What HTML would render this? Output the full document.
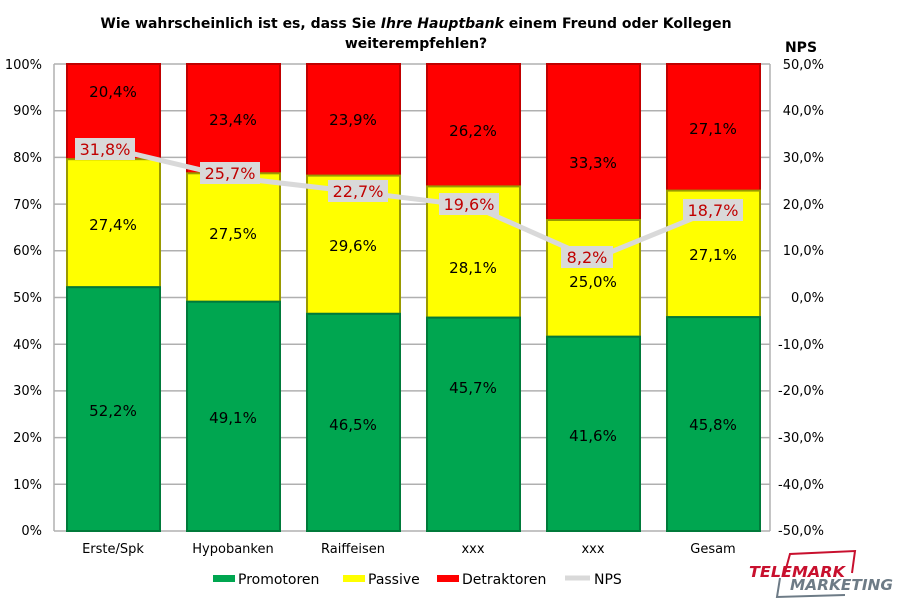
<!DOCTYPE html>
<html><head><meta charset="utf-8"><style>
body{margin:0;background:#fff;width:899px;height:600px;overflow:hidden}
svg{font-family:"DejaVu Sans",Verdana,sans-serif}
</style></head><body>
<svg width="899" height="600" xmlns="http://www.w3.org/2000/svg">
<text x="416" y="28" font-size="14" font-weight="bold" text-anchor="middle">Wie wahrscheinlich ist es, dass Sie <tspan font-style="italic">Ihre Hauptbank</tspan> einem Freund oder Kollegen</text>
<text x="416" y="48" font-size="14" font-weight="bold" text-anchor="middle">weiterempfehlen?</text>
<text x="801" y="52" font-size="14" font-weight="bold" text-anchor="middle">NPS</text>
<g stroke="#b0b0b0" stroke-width="1.5">
<line x1="54" x2="770" y1="64" y2="64"/><line x1="54" x2="770" y1="110.7" y2="110.7"/><line x1="54" x2="770" y1="157.4" y2="157.4"/><line x1="54" x2="770" y1="204.1" y2="204.1"/><line x1="54" x2="770" y1="250.8" y2="250.8"/><line x1="54" x2="770" y1="297.5" y2="297.5"/><line x1="54" x2="770" y1="344.2" y2="344.2"/><line x1="54" x2="770" y1="390.9" y2="390.9"/><line x1="54" x2="770" y1="437.6" y2="437.6"/><line x1="54" x2="770" y1="484.3" y2="484.3"/><line x1="54" x2="770" y1="531" y2="531"/>
<line x1="54" x2="54" y1="64" y2="531"/><line x1="770" x2="770" y1="64" y2="531"/>
</g>
<g font-size="13" text-anchor="end">
<text x="42" y="69">100%</text><text x="42" y="115">90%</text><text x="42" y="162">80%</text><text x="42" y="209">70%</text><text x="42" y="255">60%</text><text x="42" y="302">50%</text><text x="42" y="349">40%</text><text x="42" y="395">30%</text><text x="42" y="442">20%</text><text x="42" y="489">10%</text><text x="42" y="535">0%</text>
</g>
<g font-size="13" text-anchor="end">
<text x="824" y="69">50,0%</text><text x="824" y="115">40,0%</text><text x="824" y="162">30,0%</text><text x="824" y="209">20,0%</text><text x="824" y="255">10,0%</text><text x="824" y="302">0,0%</text><text x="824" y="349">-10,0%</text><text x="824" y="395">-20,0%</text><text x="824" y="442">-30,0%</text><text x="824" y="489">-40,0%</text><text x="824" y="535">-50,0%</text>
</g>
<g stroke-width="2">
<rect x="67" y="64" width="93" height="95.2" fill="#ff0000" stroke="#c00000"/>
<rect x="67" y="159.2" width="93" height="128" fill="#ffff00" stroke="#9a9a00"/>
<rect x="67" y="287.2" width="93" height="243.8" fill="#00a650" stroke="#007a3a"/>
<rect x="187" y="64" width="93" height="109.3" fill="#ff0000" stroke="#c00000"/>
<rect x="187" y="173.3" width="93" height="128.4" fill="#ffff00" stroke="#9a9a00"/>
<rect x="187" y="301.7" width="93" height="229.3" fill="#00a650" stroke="#007a3a"/>
<rect x="307" y="64" width="93" height="111.6" fill="#ff0000" stroke="#c00000"/>
<rect x="307" y="175.6" width="93" height="138.2" fill="#ffff00" stroke="#9a9a00"/>
<rect x="307" y="313.8" width="93" height="217.2" fill="#00a650" stroke="#007a3a"/>
<rect x="427" y="64" width="93" height="122.4" fill="#ff0000" stroke="#c00000"/>
<rect x="427" y="186.4" width="93" height="131.2" fill="#ffff00" stroke="#9a9a00"/>
<rect x="427" y="317.6" width="93" height="213.4" fill="#00a650" stroke="#007a3a"/>
<rect x="547" y="64" width="93" height="156" fill="#ff0000" stroke="#c00000"/>
<rect x="547" y="220" width="93" height="116.7" fill="#ffff00" stroke="#9a9a00"/>
<rect x="547" y="336.7" width="93" height="194.3" fill="#00a650" stroke="#007a3a"/>
<rect x="667" y="64" width="93" height="126.6" fill="#ff0000" stroke="#c00000"/>
<rect x="667" y="190.6" width="93" height="126.5" fill="#ffff00" stroke="#9a9a00"/>
<rect x="667" y="317.1" width="93" height="213.9" fill="#00a650" stroke="#007a3a"/>
</g>
<g font-size="15" text-anchor="middle">
<text x="113" y="97">20,4%</text><text x="233" y="125">23,4%</text><text x="353" y="125">23,9%</text><text x="473" y="136">26,2%</text><text x="593" y="168">33,3%</text><text x="713" y="134">27,1%</text>
<text x="113" y="230">27,4%</text><text x="233" y="239">27,5%</text><text x="353" y="251">29,6%</text><text x="473" y="273">28,1%</text><text x="593" y="287">25,0%</text><text x="713" y="260">27,1%</text>
<text x="113" y="416">52,2%</text><text x="233" y="423">49,1%</text><text x="353" y="430">46,5%</text><text x="473" y="393">45,7%</text><text x="593" y="441">41,6%</text><text x="713" y="430">45,8%</text>
</g>
<polyline points="113,149 233,177.5 353,191.5 473,206 593,259.2 713,210.2" fill="none" stroke="#d9d9d9" stroke-width="5"/>
<g fill="#d9d9d9">
<rect x="75" y="138" width="60" height="22"/><rect x="200" y="162" width="60" height="22"/><rect x="328" y="180" width="60" height="22"/><rect x="439" y="193" width="60" height="22"/><rect x="561" y="246" width="52" height="22"/><rect x="683" y="199" width="60" height="22"/>
</g>
<g font-size="16" fill="#c00000" text-anchor="middle">
<text x="105" y="155">31,8%</text><text x="230" y="179">25,7%</text><text x="358" y="197">22,7%</text><text x="469" y="210">19,6%</text><text x="587" y="263">8,2%</text><text x="713" y="216">18,7%</text>
</g>
<g font-size="13" text-anchor="middle">
<text x="113" y="553">Erste/Spk</text><text x="233" y="553">Hypobanken</text><text x="353" y="553">Raiffeisen</text><text x="473" y="553">xxx</text><text x="593" y="553">xxx</text><text x="713" y="553">Gesam</text>
</g>
<g font-size="14">
<rect x="213" y="575" width="22" height="7" fill="#00a650"/><text x="238" y="584">Promotoren</text>
<rect x="343" y="575" width="22" height="7" fill="#ffff00"/><text x="368" y="584">Passive</text>
<rect x="437" y="575" width="22" height="7" fill="#ff0000"/><text x="462" y="584">Detraktoren</text>
<line x1="565" x2="590" y1="578" y2="578" stroke="#d9d9d9" stroke-width="5"/><text x="594" y="584">NPS</text>
</g>
<path d="M784 576 L790 554 L855 551 L852 573" fill="none" stroke="#c8102e" stroke-width="2"/>
<path d="M780 578 L777 597 L845 595" fill="none" stroke="#6d7b86" stroke-width="2"/>
<text x="749" y="577" font-size="15" font-weight="bold" font-style="italic" fill="#c8102e" textLength="96" lengthAdjust="spacingAndGlyphs">TELEMARK</text>
<text x="790" y="590" font-size="15" font-weight="bold" font-style="italic" fill="#6d7b86" textLength="103" lengthAdjust="spacingAndGlyphs">MARKETING</text>
</svg>
</body></html>
